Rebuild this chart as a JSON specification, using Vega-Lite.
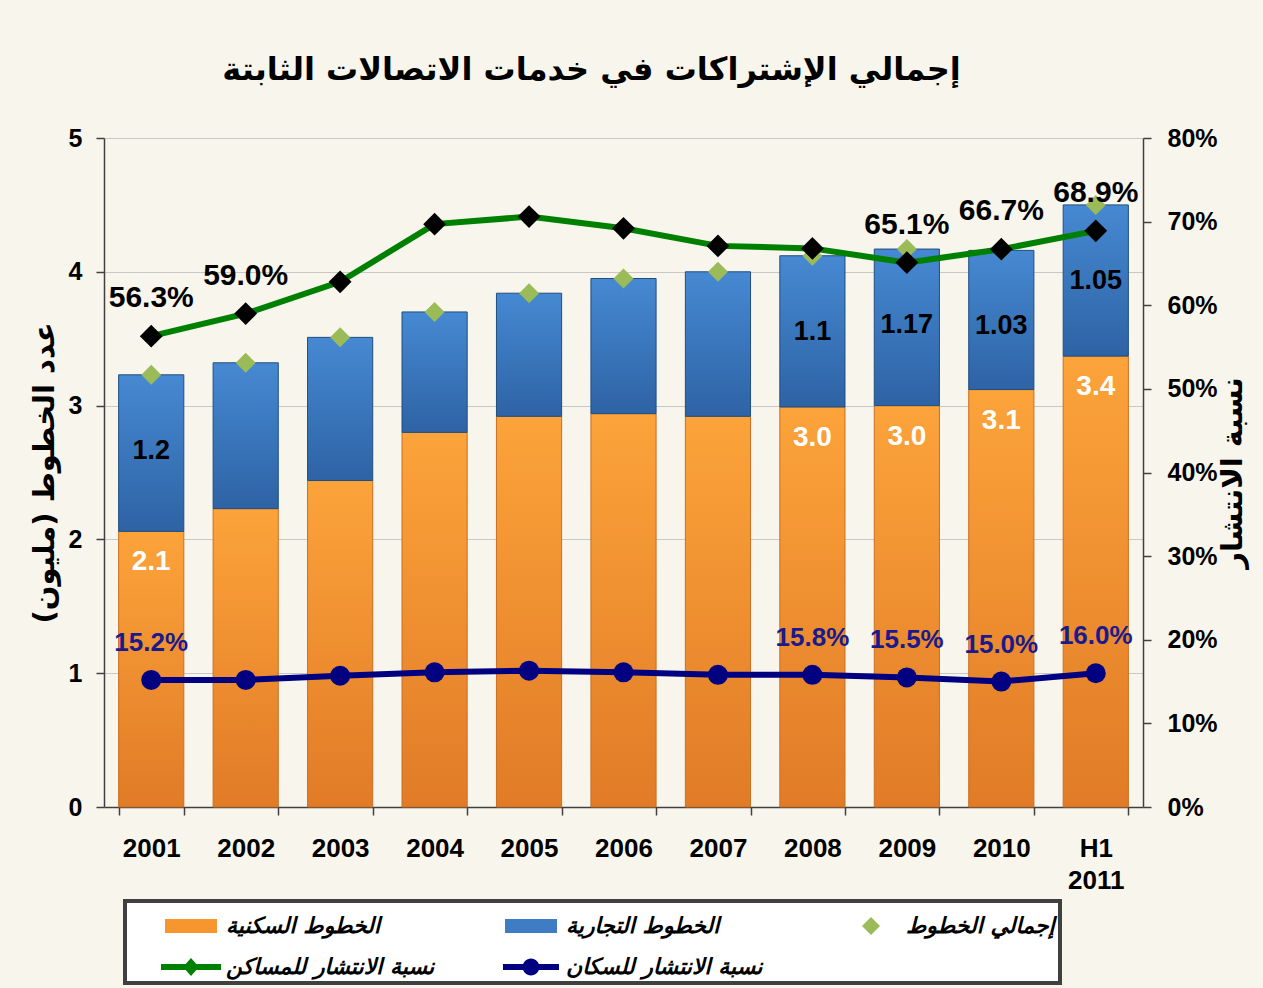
{
  "$schema": "https://vega.github.io/schema/vega-lite/v6.json",
  "width": 1039,
  "height": 669,
  "autosize": {"type": "none"},
  "padding": {"left": 104, "top": 138, "right": 120, "bottom": 181},
  "background": "#F8F6EC",
  "title": {
    "text": "إجمالي الإشتراكات في خدمات الاتصالات الثابتة",
    "font": "DejaVu Sans",
    "fontSize": 32,
    "fontWeight": "bold",
    "color": "#000000",
    "anchor": "middle",
    "offset": 39,
    "dx": -32
  },
  "config": {
    "view": {"stroke": null, "fill": "#F8F6EC"},
    "axis": {
      "labelFont": "Liberation Sans",
      "labelFontWeight": "bold",
      "labelColor": "#000000",
      "titleColor": "#000000",
      "domainColor": "#404040",
      "tickColor": "#404040",
      "domainWidth": 1.5,
      "tickWidth": 1.5
    },
    "axisLeft": {
      "titleFont": "DejaVu Sans",
      "titleFontSize": 29,
      "titleFontWeight": "bold",
      "titlePadding": 9,
      "tickCount": 5,
      "labelFontSize": 25,
      "labelPadding": 14,
      "tickSize": 8,
      "grid": true,
      "gridColor": "#C8C8C8",
      "gridWidth": 1
    },
    "axisRight": {
      "titleFont": "DejaVu Sans",
      "titleFontSize": 29,
      "titleFontWeight": "bold",
      "titleAngle": -90,
      "titlePadding": 30,
      "tickCount": 8,
      "labelFontSize": 25,
      "labelPadding": 16,
      "tickSize": 8,
      "grid": false
    },
    "legend": {
      "orient": "none",
      "legendX": 21,
      "legendY": 763,
      "columns": 3,
      "direction": "horizontal",
      "gridAlign": "all",
      "symbolSize": 1600,
      "symbolOffset": 41,
      "labelOffset": 15,
      "columnPadding": 35,
      "rowPadding": 10,
      "padding": 5,
      "fillColor": "#FFFFFF",
      "strokeColor": "#404040",
      "strokeWidth": 4,
      "symbolStrokeWidth": 0,
      "symbolOpacity": 1,
      "labelFont": "DejaVu Sans",
      "labelFontSize": 22,
      "labelFontStyle": "italic",
      "labelFontWeight": "bold",
      "labelColor": "#000000",
      "labelLimit": 400,
      "title": null
    }
  },
  "data": {
    "values": [
      {"year": "2001", "res": 2.06, "total": 3.23, "hh": 0.563, "pop": 0.152, "resLbl": "2.1", "busLbl": "1.2"},
      {"year": "2002", "res": 2.23, "total": 3.32, "hh": 0.590, "pop": 0.152},
      {"year": "2003", "res": 2.44, "total": 3.51, "hh": 0.628, "pop": 0.157},
      {"year": "2004", "res": 2.80, "total": 3.70, "hh": 0.697, "pop": 0.161},
      {"year": "2005", "res": 2.92, "total": 3.84, "hh": 0.706, "pop": 0.163},
      {"year": "2006", "res": 2.94, "total": 3.95, "hh": 0.692, "pop": 0.161},
      {"year": "2007", "res": 2.92, "total": 4.00, "hh": 0.671, "pop": 0.158},
      {"year": "2008", "res": 2.99, "total": 4.12, "hh": 0.668, "pop": 0.158, "resLbl": "3.0", "busLbl": "1.1"},
      {"year": "2009", "res": 3.00, "total": 4.17, "hh": 0.651, "pop": 0.155, "resLbl": "3.0", "busLbl": "1.17"},
      {"year": "2010", "res": 3.12, "total": 4.16, "hh": 0.667, "pop": 0.150, "resLbl": "3.1", "busLbl": "1.03"},
      {"year": "H1 2011", "res": 3.37, "total": 4.50, "hh": 0.689, "pop": 0.160, "resLbl": "3.4", "busLbl": "1.05"}
    ]
  },
  "encoding": {
    "x": {
      "field": "year",
      "type": "nominal",
      "sort": null,
      "scale": {"paddingInner": 0.31, "paddingOuter": 0.155},
      "axis": {
        "title": null,
        "labelAngle": 0,
        "labelFontSize": 26,
        "labelPadding": 20,
        "labelLineHeight": 32,
        "labelBaseline": "top",
        "tickBand": "extent",
        "tickSize": 8,
        "grid": false,
        "labelExpr": "split(datum.label, ' ')"
      }
    }
  },
  "layer": [
    {
      "layer": [
        {
          "mark": {
            "type": "bar",
            "stroke": "#C96F22",
            "strokeWidth": 1,
            "fill": {
              "gradient": "linear", "x1": 0, "y1": 0, "x2": 0, "y2": 1,
              "stops": [
                {"offset": 0, "color": "#FCA33A"},
                {"offset": 1, "color": "#E17B27"}
              ]
            }
          },
          "encoding": {
            "y": {
              "field": "res",
              "type": "quantitative",
              "scale": {"domain": [0, 5], "nice": false},
              "axis": {"title": "عدد الخطوط (مليون)"}
            }
          }
        },
        {
          "mark": {
            "type": "bar",
            "stroke": "#1F4E80",
            "strokeWidth": 1,
            "fill": {
              "gradient": "linear", "x1": 0, "y1": 0, "x2": 0, "y2": 1,
              "stops": [
                {"offset": 0, "color": "#4689D2"},
                {"offset": 1, "color": "#2E63A5"}
              ]
            }
          },
          "encoding": {
            "y": {"field": "total", "type": "quantitative", "axis": {"title": "عدد الخطوط (مليون)"}},
            "y2": {"field": "res"}
          }
        },
        {
          "mark": {"type": "point", "filled": true, "opacity": 1, "size": 1975, "strokeWidth": 0},
          "encoding": {
            "y": {"field": "total", "type": "quantitative", "axis": {"title": "عدد الخطوط (مليون)"}},
            "color": {
              "datum": "إجمالي الخطوط",
              "type": "nominal",
              "scale": {
                "domain": ["الخطوط السكنية", "الخطوط التجارية", "إجمالي الخطوط", "نسبة الانتشار للمساكن", "نسبة الانتشار للسكان"],
                "range": ["#F7962F", "#3E7DC4", "#9BBB59", "#008000", "#000080"]
              }
            },
            "shape": {
              "datum": "إجمالي الخطوط",
              "type": "nominal",
              "scale": {
                "domain": ["الخطوط السكنية", "الخطوط التجارية", "إجمالي الخطوط", "نسبة الانتشار للمساكن", "نسبة الانتشار للسكان"],
                "range": [
                  "M-1.3,-0.35H1.3V0.35H-1.3Z",
                  "M-1.3,-0.35H1.3V0.35H-1.3Z",
                  "M0,-0.45L0.45,0L0,0.45L-0.45,0Z",
                  "M-1.5,-0.15H1.5V0.15H-1.5Z M0,-0.45L0.4,0L0,0.45L-0.4,0Z",
                  "M-1.4,-0.15H1.4V0.15H-1.4Z M0.42,0A0.42,0.42 0 1 1 -0.42,0A0.42,0.42 0 1 1 0.42,0Z"
                ]
              }
            }
          }
        },
        {
          "transform": [{"filter": "isValid(datum.resLbl)"}],
          "mark": {"type": "text", "font": "Liberation Sans", "fontWeight": "bold", "fontSize": 28, "color": "#FFFFFF", "baseline": "middle", "dy": 31},
          "encoding": {
            "y": {"field": "res", "type": "quantitative", "axis": {"title": "عدد الخطوط (مليون)"}},
            "text": {"field": "resLbl"}
          }
        },
        {
          "transform": [{"filter": "isValid(datum.busLbl)"}],
          "mark": {"type": "text", "font": "Liberation Sans", "fontWeight": "bold", "fontSize": 27, "color": "#000000", "baseline": "middle", "dy": 76},
          "encoding": {
            "y": {"field": "total", "type": "quantitative", "axis": {"title": "عدد الخطوط (مليون)"}},
            "text": {"field": "busLbl"}
          }
        }
      ]
    },
    {
      "layer": [
        {
          "mark": {"type": "line", "color": "#008000", "strokeWidth": 6},
          "encoding": {
            "y": {
              "field": "hh",
              "type": "quantitative",
              "scale": {"domain": [0, 0.8], "nice": false},
              "axis": {"title": "نسبة الانتشار", "orient": "right", "format": ".0%"}
            }
          }
        },
        {
          "mark": {"type": "point", "shape": "diamond", "filled": true, "color": "#000000", "opacity": 1, "size": 520},
          "encoding": {
            "y": {"field": "hh", "type": "quantitative", "axis": {"title": "نسبة الانتشار", "orient": "right", "format": ".0%"}}
          }
        },
        {
          "transform": [{"filter": {"field": "year", "oneOf": ["2001", "2002", "2009", "2010", "H1 2011"]}}],
          "mark": {"type": "text", "font": "Liberation Sans", "fontWeight": "bold", "fontSize": 30, "color": "#000000", "baseline": "middle", "dy": -38},
          "encoding": {
            "y": {"field": "hh", "type": "quantitative", "axis": {"title": "نسبة الانتشار", "orient": "right", "format": ".0%"}},
            "text": {"field": "hh", "type": "quantitative", "format": ".1%"}
          }
        },
        {
          "mark": {"type": "line", "color": "#000080", "strokeWidth": 6},
          "encoding": {
            "y": {"field": "pop", "type": "quantitative", "axis": {"title": "نسبة الانتشار", "orient": "right", "format": ".0%"}}
          }
        },
        {
          "mark": {"type": "point", "shape": "circle", "filled": true, "color": "#000080", "opacity": 1, "size": 400},
          "encoding": {
            "y": {"field": "pop", "type": "quantitative", "axis": {"title": "نسبة الانتشار", "orient": "right", "format": ".0%"}}
          }
        },
        {
          "transform": [{"filter": {"field": "year", "oneOf": ["2001", "2008", "2009", "2010", "H1 2011"]}}],
          "mark": {"type": "text", "font": "Liberation Sans", "fontWeight": "bold", "fontSize": 26, "color": "#1A1A8C", "baseline": "middle", "dy": -37},
          "encoding": {
            "y": {"field": "pop", "type": "quantitative", "axis": {"title": "نسبة الانتشار", "orient": "right", "format": ".0%"}},
            "text": {"field": "pop", "type": "quantitative", "format": ".1%"}
          }
        }
      ]
    }
  ],
  "resolve": {"scale": {"y": "independent"}}
}
